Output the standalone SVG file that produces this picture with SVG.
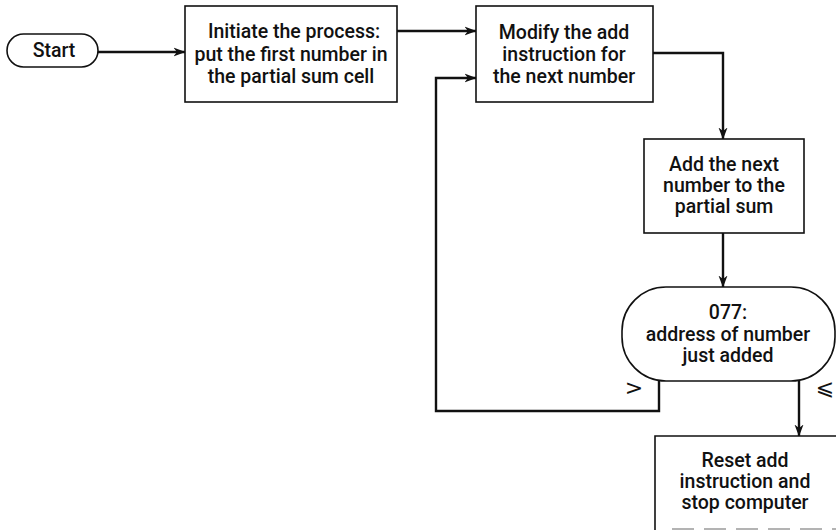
<svg xmlns="http://www.w3.org/2000/svg" width="836" height="532" viewBox="0 0 836 532">
  <style>
    .shape { fill: #ffffff; stroke: #111111; stroke-width: 1.6; }
    .edge { fill: none; stroke: #111111; stroke-width: 1.6; }
    .faint { fill: none; stroke: #9a9a9a; stroke-width: 1.6; stroke-dasharray: 22 10; }
    .wire { fill: none; stroke: #111111; stroke-width: 2.4; stroke-linejoin: miter; }
    .label { font-family: Roboto, "Liberation Sans", sans-serif; font-weight: 500; font-size: 19.5px; fill: #111111; text-anchor: middle; }
    .mark { font-family: "DejaVu Sans", sans-serif; font-size: 22px; fill: #111111; text-anchor: middle; }
  </style>
  <defs>
    <marker id="arrow" viewBox="0 0 12 10" refX="11.5" refY="5" markerWidth="12" markerHeight="10" markerUnits="userSpaceOnUse" orient="auto">
      <path d="M0,0.5 L12,5 L0,9.5 L3.5,5 Z" fill="#111111"/>
    </marker>
  </defs>

  <!-- connectors -->
  <g id="connectors">
    <path class="wire" d="M98,52 H185" marker-end="url(#arrow)"/>
    <path class="wire" d="M397,31 H476" marker-end="url(#arrow)"/>
    <path class="wire" d="M653,53 H723 V139" marker-end="url(#arrow)"/>
    <path class="wire" d="M723,233 V287" marker-end="url(#arrow)"/>
    <path class="wire" d="M659,381 V411 H436 V78 H476" marker-end="url(#arrow)"/>
    <path class="wire" d="M799,381 V436" marker-end="url(#arrow)"/>
  </g>

  <!-- terminal: start -->
  <g id="start">
    <rect class="shape" x="7" y="34" width="91" height="33" rx="16.5"/>
    <text class="label" x="54" y="57">Start</text>
  </g>

  <!-- initialisation step -->
  <g id="initiate">
    <rect class="shape" x="185" y="6" width="212" height="96"/>
    <text class="label" x="294" y="38">Initiate the process:</text>
    <text class="label" x="291" y="61">put the first number in</text>
    <text class="label" x="291" y="83">the partial sum cell</text>
  </g>

  <!-- address modification step -->
  <g id="modify">
    <rect class="shape" x="476" y="6" width="177" height="96"/>
    <text class="label" x="564" y="39">Modify the add</text>
    <text class="label" x="564" y="61">instruction for</text>
    <text class="label" x="564" y="83">the next number</text>
  </g>

  <!-- accumulation step -->
  <g id="add">
    <rect class="shape" x="644" y="139" width="160" height="94"/>
    <text class="label" x="724" y="171">Add the next</text>
    <text class="label" x="724" y="192">number to the</text>
    <text class="label" x="724" y="213">partial sum</text>
  </g>

  <!-- comparison -->
  <g id="compare">
    <rect class="shape" x="622" y="287" width="213" height="94" rx="44" ry="44"/>
    <text class="label" x="728" y="319">077:</text>
    <text class="label" x="728" y="341">address of number</text>
    <text class="label" x="728" y="362">just added</text>
    <text class="mark" x="634" y="395">&gt;</text>
    <text class="mark" x="825" y="395">⩽</text>
  </g>

  <!-- final step -->
  <g id="reset">
    <rect x="655" y="436" width="190" height="94" fill="#ffffff"/>
    <path class="edge" d="M655,530 V436 H845"/>
    <path class="faint" d="M672,529 H845"/>
    <text class="label" x="745" y="467">Reset add</text>
    <text class="label" x="745" y="488">instruction and</text>
    <text class="label" x="745" y="509">stop computer</text>
  </g>
</svg>
